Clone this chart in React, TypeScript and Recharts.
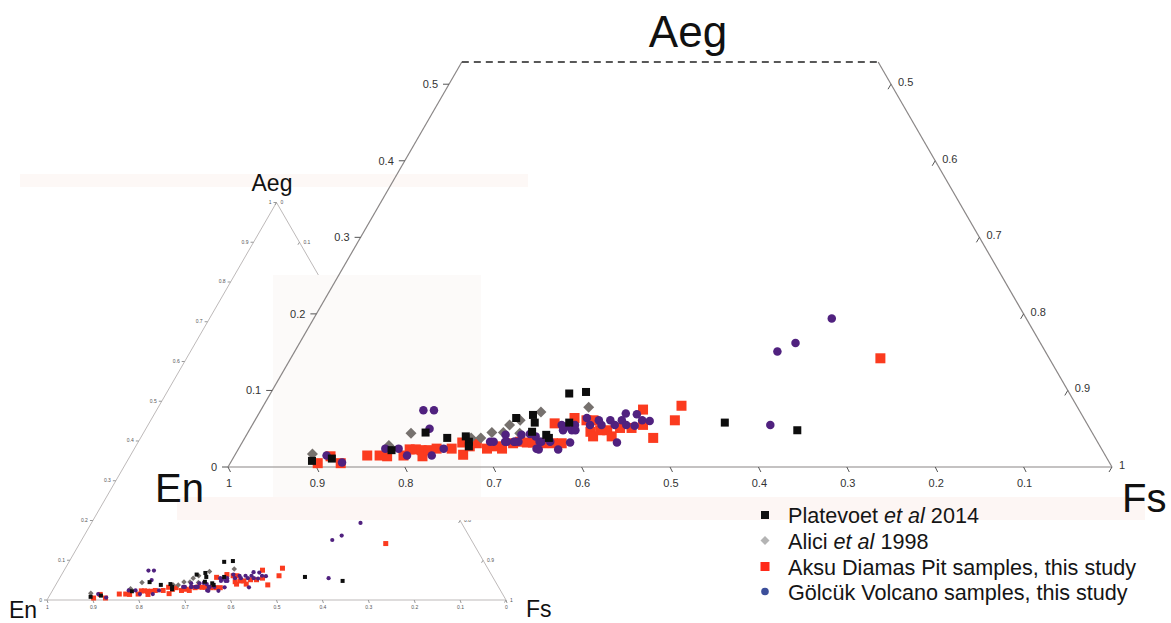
import React from 'react';
import { ScatterChart, Scatter, XAxis, YAxis, ReferenceLine } from 'recharts';

// ternary values (En, Aeg; Fs = 1 - En - Aeg)
const platevoetEn = [0.901, 0.877, 0.804, 0.754, 0.733, 0.711, 0.711, 0.714, 0.642, 0.633, 0.621, 0.624, 0.619, 0.618, 0.585, 0.566, 0.546, 0.409, 0.332];
const platevoetAeg = [0.008, 0.011, 0.022, 0.045, 0.038, 0.040, 0.033, 0.027, 0.064, 0.046, 0.068, 0.058, 0.042, 0.038, 0.058, 0.096, 0.098, 0.058, 0.048];

const aliciEn = [0.896, 0.804, 0.771, 0.706, 0.695, 0.679, 0.666, 0.654, 0.639, 0.648, 0.610, 0.553];
const aliciAeg = [0.017, 0.028, 0.044, 0.038, 0.038, 0.045, 0.045, 0.055, 0.061, 0.044, 0.072, 0.078];

const aksuEn = [0.896, 0.877, 0.870, 0.835, 0.821, 0.813, 0.794, 0.783, 0.776, 0.770, 0.773, 0.762, 0.752, 0.735, 0.719, 0.726, 0.713, 0.703, 0.695, 0.683, 0.678, 0.662, 0.653, 0.646, 0.639, 0.628, 0.617, 0.602, 0.607, 0.576, 0.564, 0.556, 0.567, 0.567, 0.555, 0.547, 0.546, 0.531, 0.518, 0.493, 0.503, 0.500, 0.464, 0.447, 0.191];
const aksuAeg = [0.005, 0.014, 0.005, 0.015, 0.015, 0.014, 0.015, 0.023, 0.023, 0.022, 0.014, 0.022, 0.024, 0.024, 0.032, 0.016, 0.027, 0.031, 0.024, 0.027, 0.024, 0.031, 0.033, 0.032, 0.032, 0.031, 0.031, 0.057, 0.031, 0.064, 0.061, 0.061, 0.046, 0.040, 0.048, 0.048, 0.040, 0.051, 0.051, 0.075, 0.055, 0.038, 0.061, 0.080, 0.142];

const golcukEn = [0.881, 0.868, 0.810, 0.795, 0.790, 0.762, 0.744, 0.747, 0.742, 0.730, 0.687, 0.683, 0.670, 0.660, 0.655, 0.637, 0.639, 0.665, 0.668, 0.659, 0.647, 0.632, 0.631, 0.629, 0.637, 0.619, 0.615, 0.595, 0.597, 0.591, 0.587, 0.580, 0.583, 0.597, 0.562, 0.563, 0.550, 0.550, 0.537, 0.535, 0.524, 0.515, 0.522, 0.513, 0.503, 0.501, 0.493, 0.544, 0.359, 0.303, 0.277, 0.220];
const golcukAeg = [0.015, 0.006, 0.024, 0.024, 0.015, 0.015, 0.024, 0.050, 0.074, 0.074, 0.033, 0.033, 0.033, 0.033, 0.033, 0.043, 0.024, 0.042, 0.033, 0.033, 0.042, 0.040, 0.033, 0.033, 0.023, 0.033, 0.023, 0.055, 0.048, 0.053, 0.048, 0.055, 0.048, 0.032, 0.064, 0.055, 0.061, 0.055, 0.061, 0.055, 0.061, 0.070, 0.055, 0.054, 0.069, 0.061, 0.060, 0.032, 0.055, 0.151, 0.162, 0.194];

// axis tick labels
const mainAegTicks = [0, 0.1, 0.2, 0.3, 0.4, 0.5];
const mainEnTicks = [1, 0.9, 0.8, 0.7, 0.6, 0.5, 0.4, 0.3, 0.2, 0.1];
const mainFsTicks = [0.5, 0.6, 0.7, 0.8, 0.9, 1];
const insetTicks = [0, 0.1, 0.2, 0.3, 0.4, 0.5, 0.6, 0.7, 0.8, 0.9, 1];
const mainTopAeg = 0.529;

const W = 1171;
const H = 623;
const FONT = '"Liberation Sans", Arial, sans-serif';
const S3 = Math.sqrt(3) / 2;

// ternary -> cartesian (x along En-Fs base, y = Aeg)
const toXY = (en: number, aeg: number) => ({ x: 1 - en - aeg / 2, y: aeg });
const zipSeries = (en: number[], aeg: number[]) => en.map((e, i) => toXY(e, aeg[i]));

const platevoet = zipSeries(platevoetEn, platevoetAeg);
const alici = zipSeries(aliciEn, aliciAeg);
const aksu = zipSeries(aksuEn, aksuAeg);
const golcuk = zipSeries(golcukEn, golcukAeg);

const fmt = (v: number) => String(v);

function domains(x0: number, y0: number, side: number) {
  return {
    x: [-x0 / side, (W - x0) / side] as [number, number],
    y: [-(H - y0) / (side * S3), y0 / (side * S3)] as [number, number],
  };
}

const square = (size: number, color: string) => (p: any) =>
  <rect x={p.cx - size / 2} y={p.cy - size / 2} width={size} height={size} fill={color} />;
const circle = (size: number, color: string) => (p: any) =>
  <circle cx={p.cx} cy={p.cy} r={size / 2} fill={color} />;
const diamond = (size: number, color: string) => (p: any) => {
  const h = size / 2;
  return <polygon points={`${p.cx},${p.cy - h} ${p.cx + h},${p.cy} ${p.cx},${p.cy + h} ${p.cx - h},${p.cy}`} fill={color} />;
};

type TickOpts = { dx1: number; dy1: number; tx: number; ty: number; anchor: 'start' | 'middle' | 'end'; size: number; color: string; stroke: string };
const tickShape = (o: TickOpts) => (p: any) => (
  <g>
    <line x1={p.cx} y1={p.cy} x2={p.cx + o.dx1} y2={p.cy + o.dy1} stroke={o.stroke} strokeWidth={1} />
    <text x={p.cx + o.tx} y={p.cy + o.ty} textAnchor={o.anchor} fontSize={o.size} fill={o.color} fontFamily={FONT}>
      {p.payload.label}
    </text>
  </g>
);

const RED = '#fb3b1f';
const PURPLE = '#50217f';
const GREY = '#76716e';
const BLACK = '#0d0d0d';

function MainChart() {
  const d = domains(228, 467, 884);
  const leftTicks = mainAegTicks.map((a) => ({ ...toXY(1 - a, a), label: fmt(a) }));
  const bottomTicks = mainEnTicks.map((e) => ({ ...toXY(e, 0), label: fmt(e) }));
  const rightTicks = mainFsTicks.map((f) => ({ ...toXY(0, 1 - f), label: fmt(f) }));
  const T = mainTopAeg;
  const edge = '#8a8686';
  return (
    <ScatterChart width={W} height={H} margin={{ top: 0, right: 0, bottom: 0, left: 0 }}>
      <XAxis type="number" dataKey="x" domain={d.x} allowDataOverflow hide />
      <YAxis type="number" dataKey="y" domain={d.y} allowDataOverflow hide />
      <ReferenceLine segment={[{ x: 0, y: 0 }, { x: 1, y: 0 }]} stroke={edge} strokeWidth={1.2} />
      <ReferenceLine segment={[{ x: 0, y: 0 }, { x: T / 2, y: T }]} stroke={edge} strokeWidth={1.2} />
      <ReferenceLine segment={[{ x: 1, y: 0 }, { x: 1 - T / 2, y: T }]} stroke={edge} strokeWidth={1.2} />
      <ReferenceLine segment={[{ x: T / 2, y: T }, { x: 1 - T / 2, y: T }]} stroke="#222" strokeWidth={1.3} strokeDasharray="7 5" />
      <Scatter data={leftTicks} isAnimationActive={false}
        shape={tickShape({ dx1: -6, dy1: 0, tx: -11, ty: 4, anchor: 'end', size: 11, color: '#333', stroke: '#555' })} />
      <Scatter data={bottomTicks} isAnimationActive={false}
        shape={tickShape({ dx1: 2.5, dy1: 5, tx: 1, ty: 20, anchor: 'middle', size: 11, color: '#333', stroke: '#555' })} />
      <Scatter data={rightTicks} isAnimationActive={false}
        shape={tickShape({ dx1: -3, dy1: 5, tx: 7, ty: 2, anchor: 'start', size: 11, color: '#333', stroke: '#555' })} />
      <Scatter data={aksu} isAnimationActive={false} shape={square(10, RED)} />
      <Scatter data={alici} isAnimationActive={false} shape={diamond(11, GREY)} />
      <Scatter data={golcuk} isAnimationActive={false} shape={circle(8.5, PURPLE)} />
      <Scatter data={platevoet} isAnimationActive={false} shape={square(8, BLACK)} />
    </ScatterChart>
  );
}

function InsetChart() {
  const d = domains(47, 600, 459);
  const leftTicks = insetTicks.map((a) => ({ ...toXY(1 - a, a), label: fmt(a) }));
  const bottomTicks = insetTicks.map((e) => ({ ...toXY(e, 0), label: fmt(e) }));
  const rightTicks = insetTicks.map((f) => ({ ...toXY(0, 1 - f), label: fmt(f) }));
  const edge = '#b5b1b1';
  return (
    <ScatterChart width={W} height={H} margin={{ top: 0, right: 0, bottom: 0, left: 0 }}>
      <XAxis type="number" dataKey="x" domain={d.x} allowDataOverflow hide />
      <YAxis type="number" dataKey="y" domain={d.y} allowDataOverflow hide />
      <ReferenceLine segment={[{ x: 0, y: 0 }, { x: 1, y: 0 }]} stroke={edge} strokeWidth={0.9} />
      <ReferenceLine segment={[{ x: 0, y: 0 }, { x: 0.5, y: 1 }]} stroke={edge} strokeWidth={0.9} />
      <ReferenceLine segment={[{ x: 1, y: 0 }, { x: 0.5, y: 1 }]} stroke={edge} strokeWidth={0.9} />
      <Scatter data={leftTicks} isAnimationActive={false}
        shape={tickShape({ dx1: -3, dy1: 0, tx: -5, ty: 1.5, anchor: 'end', size: 5, color: '#555', stroke: '#999' })} />
      <Scatter data={bottomTicks} isAnimationActive={false}
        shape={tickShape({ dx1: 1, dy1: 3, tx: 0.5, ty: 8.5, anchor: 'middle', size: 5, color: '#555', stroke: '#999' })} />
      <Scatter data={rightTicks} isAnimationActive={false}
        shape={tickShape({ dx1: -1.5, dy1: 2.5, tx: 4, ty: 1.5, anchor: 'start', size: 5, color: '#555', stroke: '#999' })} />
      <Scatter data={aksu} isAnimationActive={false} shape={square(5, RED)} />
      <Scatter data={alici} isAnimationActive={false} shape={diamond(5.5, GREY)} />
      <Scatter data={golcuk} isAnimationActive={false} shape={circle(4.2, PURPLE)} />
      <Scatter data={platevoet} isAnimationActive={false} shape={square(4, BLACK)} />
    </ScatterChart>
  );
}

const legendItems = [
  { pre: 'Platevoet ', it: 'et al', post: ' 2014' },
  { pre: 'Alici ', it: 'et al', post: ' 1998' },
  { pre: 'Aksu Diamas Pit samples, this study', it: '', post: '' },
  { pre: 'Gölcük Volcano samples, this study', it: '', post: '' },
];

function Overlay() {
  const mx = 765;
  const rows = [515, 540.5, 566.5, 591.5];
  return (
    <svg width={W} height={H} style={{ position: 'absolute', left: 0, top: 0 }} fontFamily={FONT}>
      <text x={688} y={47} fontSize={44} textAnchor="middle" fill="#111">Aeg</text>
      <text x={155} y={502} fontSize={40} fill="#111">En</text>
      <text x={1122} y={512} fontSize={40} fill="#111">Fs</text>
      <text x={272} y={191} fontSize={23} textAnchor="middle" fill="#111">Aeg</text>
      <text x={9} y={618} fontSize={23} fill="#111">En</text>
      <text x={526} y={617} fontSize={23} fill="#111">Fs</text>
      <rect x={mx - 4} y={rows[0] - 4} width={8} height={8} fill="#111" />
      <polygon points={`${mx},${rows[1] - 4.5} ${mx + 4.5},${rows[1]} ${mx},${rows[1] + 4.5} ${mx - 4.5},${rows[1]}`} fill="#b4b4b4" />
      <rect x={mx - 4.5} y={rows[2] - 4.5} width={9} height={9} fill="#ff2a1a" />
      <circle cx={mx} cy={rows[3]} r={3.8} fill="#3c4f9b" />
      {legendItems.map((it, i) => (
        <text key={i} x={788} y={rows[i] + 8} fontSize={21.6} fill="#151515">
          {it.pre}
          {it.it && <tspan fontStyle="italic">{it.it}</tspan>}
          {it.post}
        </text>
      ))}
    </svg>
  );
}

export default function App() {
  return (
    <div style={{ position: 'relative', width: W, height: H, background: '#fff', overflow: 'hidden' }}>
      <style>{'body{margin:0}'}</style>
      <div style={{ position: 'absolute', left: 0, top: 0 }}>
        <InsetChart />
      </div>
      <div style={{ position: 'absolute', left: 20, top: 174, width: 508, height: 13, background: '#fdf8f6' }} />
      <div style={{ position: 'absolute', left: 273, top: 275, width: 208, height: 222, background: '#fcfaf9' }} />
      <div style={{ position: 'absolute', left: 177, top: 497, width: 968, height: 23, background: '#fdf6f4' }} />
      <div style={{ position: 'absolute', left: 0, top: 0 }}>
        <MainChart />
      </div>
      <Overlay />
    </div>
  );
}
